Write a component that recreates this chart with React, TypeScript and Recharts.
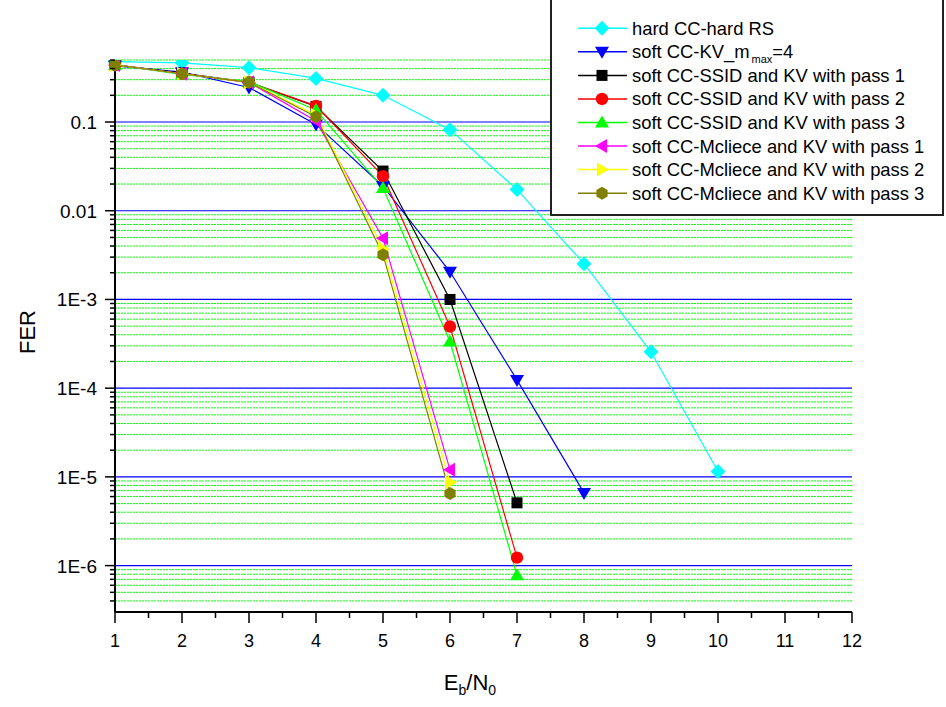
import React from 'react';
import { LineChart, Line, XAxis, YAxis, ReferenceLine, Label } from 'recharts';

const ebn0 = [1, 2, 3, 4, 5, 6, 7, 8, 9, 10];
const hardRS = [0.48, 0.465, 0.41, 0.31, 0.2, 0.082, 0.0173, 0.00253, 0.000257, 0.0000115];
const softKV = [0.43, 0.365, 0.245, 0.094, 0.0189, 0.00205, 0.000124, 0.0000066];
const ssid1 = [0.44, 0.355, 0.28, 0.15, 0.028, 0.001, 0.0000051];
const ssid2 = [0.44, 0.35, 0.28, 0.152, 0.0245, 0.000495, 0.00000123];
const ssid3 = [0.44, 0.345, 0.285, 0.137, 0.018, 0.000336, 0.00000078];
const mc1 = [0.44, 0.35, 0.28, 0.103, 0.0049, 0.000012];
const mc2 = [0.44, 0.35, 0.28, 0.12, 0.0037, 0.0000087];
const mc3 = [0.44, 0.35, 0.28, 0.115, 0.0032, 0.0000065];

const xTicks = [1, 1.5, 2, 2.5, 3, 3.5, 4, 4.5, 5, 5.5, 6, 6.5, 7, 7.5, 8, 8.5, 9, 9.5, 10, 10.5, 11, 11.5, 12];
const decades = [1e-6, 1e-5, 1e-4, 1e-3, 1e-2, 1e-1];
const decadeLabels = ['1E-6', '1E-5', '1E-4', '1E-3', '0.01', '0.1'];

const FONT = '"Liberation Sans", Arial, sans-serif';
const PLOT_LEFT = 115;
const PLOT_BOTTOM = 612;

type Shape = 'diamond' | 'down' | 'square' | 'circle' | 'up' | 'left' | 'right' | 'hex';

const series: { key: string; name: string; color: string; shape: Shape; values: number[] }[] = [
  { key: 'hard', name: 'hard CC-hard RS', color: '#00FFFF', shape: 'diamond', values: hardRS },
  { key: 'kv', name: 'soft CC-KV_m', color: '#0000FF', shape: 'down', values: softKV },
  { key: 's1', name: 'soft CC-SSID and KV with pass 1', color: '#000000', shape: 'square', values: ssid1 },
  { key: 's2', name: 'soft CC-SSID and KV with pass 2', color: '#FF0000', shape: 'circle', values: ssid2 },
  { key: 's3', name: 'soft CC-SSID and KV with pass 3', color: '#00FF00', shape: 'up', values: ssid3 },
  { key: 'm1', name: 'soft CC-Mcliece and KV with pass 1', color: '#FF00FF', shape: 'left', values: mc1 },
  { key: 'm2', name: 'soft CC-Mcliece and KV with pass 2', color: '#FFFF00', shape: 'right', values: mc2 },
  { key: 'm3', name: 'soft CC-Mcliece and KV with pass 3', color: '#808000', shape: 'hex', values: mc3 },
];

const rows = ebn0.map((x, i) => {
  const r: Record<string, number | undefined> = { x };
  series.forEach((s) => {
    r[s.key] = s.values[i];
  });
  return r;
});

// minor grid values 2..9 x each decade, inside the axis range
const minorVals: number[] = [];
[1e-7, 1e-6, 1e-5, 1e-4, 1e-3, 1e-2, 1e-1].forEach((d) => {
  for (let m = 2; m <= 9; m++) {
    const v = m * d;
    if (v > 3.01e-7 && v <= 0.5001) minorVals.push(v);
  }
});

function Marker({ shape, color, cx, cy }: { shape: Shape; color: string; cx: number; cy: number }) {
  const p = (pts: number[][]) => pts.map((q) => `${cx + q[0]},${cy + q[1]}`).join(' ');
  switch (shape) {
    case 'diamond':
      return <polygon points={p([[0, -7.5], [7.5, 0], [0, 7.5], [-7.5, 0]])} fill={color} />;
    case 'down':
      return <polygon points={p([[-7, -5], [7, -5], [0, 7]])} fill={color} />;
    case 'up':
      return <polygon points={p([[-7, 5], [7, 5], [0, -7]])} fill={color} />;
    case 'left':
      return <polygon points={p([[-7, 0], [5, -7], [5, 7]])} fill={color} />;
    case 'right':
      return <polygon points={p([[7, 0], [-5, -7], [-5, 7]])} fill={color} />;
    case 'square':
      return <rect x={cx - 5.5} y={cy - 5.5} width={11} height={11} fill={color} />;
    case 'circle':
      return <circle cx={cx} cy={cy} r={6.2} fill={color} />;
    case 'hex':
      return (
        <polygon
          points={p([[0, -6.5], [5.6, -3.25], [5.6, 3.25], [0, 6.5], [-5.6, 3.25], [-5.6, -3.25]])}
          fill={color}
        />
      );
  }
  return null;
}

const XTick = (props: any) => {
  const { x, payload } = props;
  const v = payload.value as number;
  const major = Number.isInteger(v);
  return (
    <g>
      <line x1={x} x2={x} y1={PLOT_BOTTOM} y2={PLOT_BOTTOM + (major ? 11 : 6)} stroke="#000" strokeWidth={1.5} />
      {major && (
        <text x={x} y={PLOT_BOTTOM + 35} textAnchor="middle" fontFamily={FONT} fontSize={18} fill="#000">
          {v}
        </text>
      )}
    </g>
  );
};

const YTick = (props: any) => {
  const { y, payload } = props;
  const v = payload.value as number;
  const idx = decades.findIndex((d) => Math.abs(d - v) / d < 1e-6);
  const major = idx >= 0;
  return (
    <g>
      <line x1={PLOT_LEFT - (major ? 10 : 5)} x2={PLOT_LEFT} y1={y} y2={y} stroke="#000" strokeWidth={1.5} />
      {major && (
        <text x={97} y={y + 7} textAnchor="end" fontFamily={FONT} fontSize={19} fill="#000">
          {decadeLabels[idx]}
        </text>
      )}
    </g>
  );
};

function Legend() {
  const rowH = 23.55;
  return (
    <svg width={946} height={707} style={{ position: 'absolute', left: 0, top: 0, pointerEvents: 'none' }}>
      <rect x={551} y={-4} width={392} height={219} fill="#fff" stroke="#222" strokeWidth={2} />
      {series.map((s, i) => {
        const y = 28.3 + i * rowH;
        return (
          <g key={s.key}>
            <line x1={578} x2={627} y1={y} y2={y} stroke={s.color} strokeWidth={1.5} />
            <Marker shape={s.shape} color={s.color} cx={602} cy={y} />
            <text x={632} y={y + 6.5} fontFamily={FONT} fontSize={18.4} fill="#000">
              {s.key === 'kv' ? (
                <>
                  {s.name}
                  <tspan fontSize={11} dx={2} dy={5}>
                    max
                  </tspan>
                  <tspan fontSize={18.4} dy={-5}>
                    =4
                  </tspan>
                </>
              ) : (
                s.name
              )}
            </text>
          </g>
        );
      })}
    </svg>
  );
}

export default function App() {
  return (
    <div style={{ position: 'absolute', left: 0, top: 0, width: 946, height: 707, background: '#fff' }}>
      <LineChart width={946} height={707} data={rows} margin={{ top: 60, right: 94, bottom: 0, left: 0 }}>
        {minorVals.map((v) => (
          <ReferenceLine key={'mn' + v} y={v} stroke="#00FF00" strokeWidth={1} strokeDasharray="2 1" />
        ))}
        {decades.map((v) => (
          <ReferenceLine key={'mj' + v} y={v} stroke="#0000FF" strokeWidth={1.2} />
        ))}
        <XAxis
          dataKey="x"
          type="number"
          domain={[1, 12]}
          ticks={xTicks}
          interval={0}
          height={95}
          tickLine={false}
          axisLine={{ stroke: '#000', strokeWidth: 2 }}
          tick={<XTick />}
        >
          <Label
            content={() => (
              <text x={470} y={690} textAnchor="middle" fontFamily={FONT} fontSize={22} fill="#000">
                E<tspan fontSize={14} dy={5}>b</tspan>
                <tspan fontSize={22} dy={-5}>/N</tspan>
                <tspan fontSize={14} dy={5}>0</tspan>
              </text>
            )}
          />
        </XAxis>
        <YAxis
          type="number"
          scale="log"
          domain={[3e-7, 0.5]}
          allowDataOverflow
          ticks={[...decades, ...minorVals]}
          interval={0}
          width={115}
          tickLine={false}
          axisLine={{ stroke: '#000', strokeWidth: 2 }}
          tick={<YTick />}
        >
          <Label
            content={() => (
              <text
                x={35}
                y={332}
                textAnchor="middle"
                transform="rotate(-90 35 332)"
                fontFamily={FONT}
                fontSize={22}
                fill="#000"
              >
                FER
              </text>
            )}
          />
        </YAxis>
        {series.map((s) => (
          <Line
            key={s.key}
            dataKey={s.key}
            stroke={s.color}
            strokeWidth={1.2}
            isAnimationActive={false}
            activeDot={false}
            connectNulls={false}
            dot={(p: any) => <Marker key={`${s.key}-${p.index}`} shape={s.shape} color={s.color} cx={p.cx} cy={p.cy} />}
          />
        ))}
      </LineChart>
      <Legend />
    </div>
  );
}
